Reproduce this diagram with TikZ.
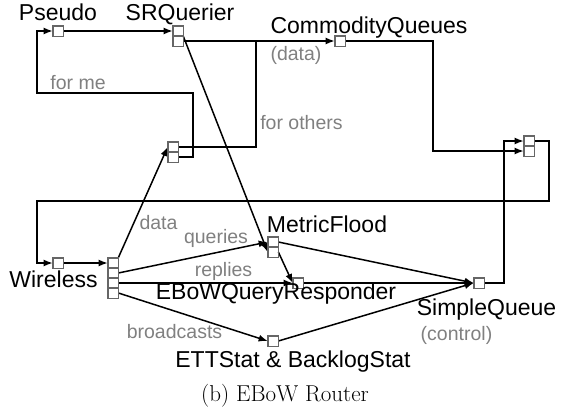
\documentclass[tikz,border=0pt]{standalone}
\usepackage{fontspec}
\newfontfamily\arialf{Liberation Sans}
\usetikzlibrary{arrows.meta,calc}
\begin{document}
\begin{tikzpicture}[x=1pt,y=-1pt,
  port/.style={draw=black!60,fill=white,minimum width=10pt,minimum height=10pt,inner sep=0pt,line width=0.7pt},
  wire/.style={line width=1.5pt,black},
  arr/.style={wire,-{Latex[length=9pt,width=7pt]}},
  lbl/.style={font=\arialf\fontsize{23}{27}\selectfont,inner sep=0pt,anchor=base},
  glbl/.style={font=\arialf\fontsize{19.5}{23}\selectfont,text=black!50,inner sep=0pt,anchor=base}]
\useasboundingbox (0,0) rectangle (562,412);
% ports
\node[port] (ps) at (58,31) {};
\node[port] (srq1) at (178,31) {};
\node[port] (srq2) at (178,41) {};
\node[port] (cq) at (340,41) {};
\node[port] (spl1) at (173,147) {};
\node[port] (spl2) at (173,157) {};
\node[port] (rb1) at (529,141) {};
\node[port] (rb2) at (529,151) {};
\node[port] (w0) at (58,263) {};
\node[port] (w1) at (113,263) {};
\node[port] (w2) at (113,273) {};
\node[port] (w3) at (113,283) {};
\node[port] (w4) at (113,293) {};
\node[port] (mf1) at (273,242) {};
\node[port] (mf2) at (273,252) {};
\node[port] (eq) at (298,283) {};
\node[port] (ett) at (273,341) {};
\node[port] (sq) at (479,283) {};
% waypoints
\coordinate (jo) at (256,41);
\coordinate (fm1) at (193,93);
\coordinate (fm2) at (37,93);
\coordinate (cqc) at (433,100);
\coordinate (sqc) at (504,200);
\coordinate (lp1) at (549,201);
\coordinate (lp2) at (37,201);
% connectors
\draw[arr] (ps.east) -- (srq1.west);
\draw[arr] (srq2.east) -- (cq.west);
\draw[wire] (spl1.east) -| (jo);
\draw[arr] (spl2.east) -| (fm1) -- (fm2) |- (ps.west);
\draw[arr] (cq.east) -| (cqc) |- (rb2.west);
\draw[arr] (sq.east) -| (sqc) |- (rb1.west);
\draw[arr] (rb1.east) -| (lp1) -- (lp2) |- (w0.west);
\draw[arr] (w0.east) -- (w1.west);
\draw[arr] (w1.north east) -- (spl1.west);
\draw[arr] (w2.east) -- (mf1.west);
\draw[arr] (w3.east) -- (eq.west);
\draw[arr] (w4.east) -- (ett.west);
\draw[arr] (srq1.south east) -- (mf2.west);
\draw[arr] (mf2.east) -- (eq.west);
\draw[arr] (mf1.east) -- (sq.west);
\draw[arr] (eq.east) -- (sq.west);
\draw[arr] (ett.east) -- (sq.west);
% redraw port outlines on top
\foreach \p in {ps,srq1,srq2,cq,spl1,spl2,rb1,rb2,w0,w1,w2,w3,w4,mf1,mf2,eq,ett,sq}{
  \draw[black!60,line width=0.7pt] (\p.south west) rectangle (\p.north east);}
% labels
\node[lbl] (tps) at (58,21) {Pseudo};
\node[lbl] (tsrq) at (180,21) {SRQuerier};
\node[lbl] (tcq) at (369,34) {CommodityQueues};
\node[glbl] (tdata1) at (296,60) {(data)};
\node[glbl] (tfm) at (78,89) {for me};
\node[glbl] (tfo) at (301.5,129) {for others};
\node[glbl] (tdata2) at (158.5,229) {data};
\node[glbl] (tq) at (216,243) {queries};
\node[glbl] (tr) at (223.5,276) {replies};
\node[glbl] (tb) at (174.5,338) {broadcasts};
\node[glbl] (tc) at (456.5,340.5) {(control)};
\node[lbl] (tsq) at (486.5,315) {SimpleQueue};
\node[lbl] (tmf) at (327,232) {MetricFlood};
\node[lbl] (teq) at (276,299) {EBoWQueryResponder};
\node[lbl] (tw) at (53.5,287) {Wireless};
\node[lbl] (tett) at (293,367) {ETTStat \& BacklogStat};
\node[inner sep=0pt,anchor=base,font=\fontsize{23}{27}\selectfont] (cap) at (285,401) {(b) EBoW Router};
\end{tikzpicture}
\end{document}
